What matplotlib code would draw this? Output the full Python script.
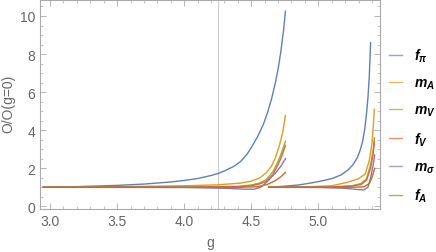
import numpy as np
import matplotlib
matplotlib.use("Agg")
import matplotlib.pyplot as plt
from matplotlib.ticker import MultipleLocator

plt.rcParams['font.family'] = ['Liberation Sans', 'DejaVu Sans']
plt.rcParams['mathtext.fontset'] = 'custom'
plt.rcParams['mathtext.it'] = 'Liberation Sans:italic:bold'
plt.rcParams['mathtext.rm'] = 'Liberation Sans:bold'
plt.rcParams['mathtext.bf'] = 'Liberation Sans:bold'

# ---- data (first branch, second branch) ----
g_fpi_1 = [2.95, 3.2, 3.5, 3.7, 3.9, 4.0, 4.1, 4.2, 4.25, 4.3, 4.37, 4.42, 4.47, 4.51,
           4.55, 4.59, 4.62, 4.65, 4.68, 4.70, 4.72, 4.74, 4.755]
fpi_1 = [1.0, 1.035, 1.1, 1.17, 1.28, 1.36, 1.46, 1.62, 1.72, 1.86, 2.1, 2.35, 2.75, 3.2,
         3.7, 4.3, 4.9, 5.6, 6.5, 7.2, 8.1, 9.2, 10.25]
g_fpi_2 = [4.63, 4.75, 4.85, 4.94, 5.05, 5.11, 5.17, 5.22, 5.26, 5.29, 5.31, 5.33, 5.345,
           5.36, 5.37, 5.38, 5.39]
fpi_2 = [1.0, 1.06, 1.12, 1.22, 1.37, 1.48, 1.65, 1.9, 2.2, 2.55, 2.9, 3.4, 4.0,
         4.9, 5.7, 6.8, 8.6]

g_mA_1 = [2.95, 3.5, 4.0, 4.25, 4.42, 4.5, 4.56, 4.61, 4.65, 4.68, 4.71, 4.735, 4.755]
mA_1 = [1.0, 1.03, 1.08, 1.13, 1.22, 1.32, 1.48, 1.75, 2.1, 2.55, 3.2, 3.9, 4.77]
g_mA_2 = [4.63, 4.9, 5.1, 5.21, 5.3, 5.35, 5.38, 5.4, 5.41, 5.418]
mA_2 = [1.0, 1.02, 1.08, 1.25, 1.45, 1.7, 2.4, 3.3, 4.2, 5.1]

g_mV_1 = [2.95, 4.0, 4.4, 4.5, 4.56, 4.61, 4.66, 4.69, 4.72, 4.755]
mV_1 = [1.0, 1.01, 1.05, 1.12, 1.22, 1.4, 1.8, 2.2, 2.7, 3.42]
g_mV_2 = [4.63, 5.1, 5.25, 5.32, 5.36, 5.39, 5.41, 5.418]
mV_2 = [1.0, 1.02, 1.08, 1.2, 1.45, 2.2, 3.0, 3.6]

g_fV_1 = [2.95, 4.0, 4.4, 4.5, 4.56, 4.61, 4.66, 4.69, 4.72, 4.755]
fV_1 = [1.0, 1.0, 1.03, 1.08, 1.17, 1.3, 1.65, 2.05, 2.5, 3.2]
g_fV_2 = [4.63, 5.1, 5.25, 5.32, 5.36, 5.39, 5.41, 5.418]
fV_2 = [1.0, 1.01, 1.06, 1.15, 1.38, 2.0, 2.8, 3.4]

g_ms_1 = [2.95, 4.0, 4.3, 4.45, 4.52, 4.57, 4.62, 4.68, 4.72, 4.755]
ms_1 = [1.0, 0.99, 0.95, 0.9, 0.9, 1.0, 1.3, 1.75, 2.1, 2.5]
g_ms_2 = [4.63, 5.0, 5.2, 5.3, 5.34, 5.37, 5.39, 5.41, 5.42]
ms_2 = [1.0, 0.99, 0.95, 0.88, 0.86, 1.0, 1.5, 2.2, 2.7]

g_fA_1 = [2.95, 4.0, 4.4, 4.55, 4.62, 4.68, 4.72, 4.755]
fA_1 = [1.0, 1.0, 1.0, 1.03, 1.15, 1.35, 1.55, 1.78]
g_fA_2 = [4.63, 5.2, 5.34, 5.38, 5.4, 5.42]
fA_2 = [1.0, 1.0, 1.02, 1.2, 1.5, 2.0]

g_marker = 4.25

labels = [r'$f_{\pi}$', r'$m_A$', r'$m_V$', r'$f_V$', r'$m_{\sigma}$', r'$f_A$']
colors = ['#5E81B5', '#E19C24', '#8FB032', '#EB6235', '#8778B3', '#C56E1A']
series = [
    (g_fpi_1, fpi_1, g_fpi_2, fpi_2),
    (g_mA_1, mA_1, g_mA_2, mA_2),
    (g_mV_1, mV_1, g_mV_2, mV_2),
    (g_fV_1, fV_1, g_fV_2, fV_2),
    (g_ms_1, ms_1, g_ms_2, ms_2),
    (g_fA_1, fA_1, g_fA_2, fA_2),
]

fig = plt.figure(figsize=(4.36, 2.53), dpi=100)
ax = fig.add_axes([40 / 436, 1 - 210 / 253, 340 / 436, 209 / 253])

ax.axvline(g_marker, color='#cccccc', lw=0.8, zorder=0)

handles = []
for (x1, y1, x2, y2), c, lab in zip(series, colors, labels):
    ax.plot(x1, y1, color=c, lw=1.0)
    ax.plot(x2, y2, color=c, lw=1.0)
    handles.append(plt.Line2D([], [], color=c, lw=1.0, alpha=0.7, label=lab))

ax.set_xlim(2.925, 5.46)
ax.set_ylim(-0.14, 10.84)
ax.xaxis.set_major_locator(MultipleLocator(0.5))
ax.xaxis.set_minor_locator(MultipleLocator(0.1))
ax.yaxis.set_major_locator(MultipleLocator(2))
ax.yaxis.set_minor_locator(MultipleLocator(0.5))
ax.xaxis.set_major_formatter(matplotlib.ticker.FormatStrFormatter('%.1f'))

for sp in ax.spines.values():
    sp.set_color('#aaaaaa')
    sp.set_linewidth(0.8)
ax.tick_params(which='both', direction='in', top=True, right=True,
               color='#aaaaaa', labelcolor='#666666', labelsize=10)
ax.tick_params(which='major', length=4, width=0.6)
ax.tick_params(which='minor', length=2, width=0.5)

ax.set_xlabel('g', color='#666666', fontsize=10)
ax.set_ylabel('O/O(g=0)', color='#666666', fontsize=10)
ax.xaxis.set_label_coords(0.5, -0.125)
ax.yaxis.set_label_coords(-0.072, 0.51)

ax.legend(handles=handles, loc='center left', bbox_to_anchor=(1.025, 0.4),
          frameon=False, fontsize=10, handlelength=1.0, handletextpad=0.8,
          labelspacing=0.85, borderaxespad=0.0, borderpad=0.0)

fig.savefig('out.png', dpi=100)
